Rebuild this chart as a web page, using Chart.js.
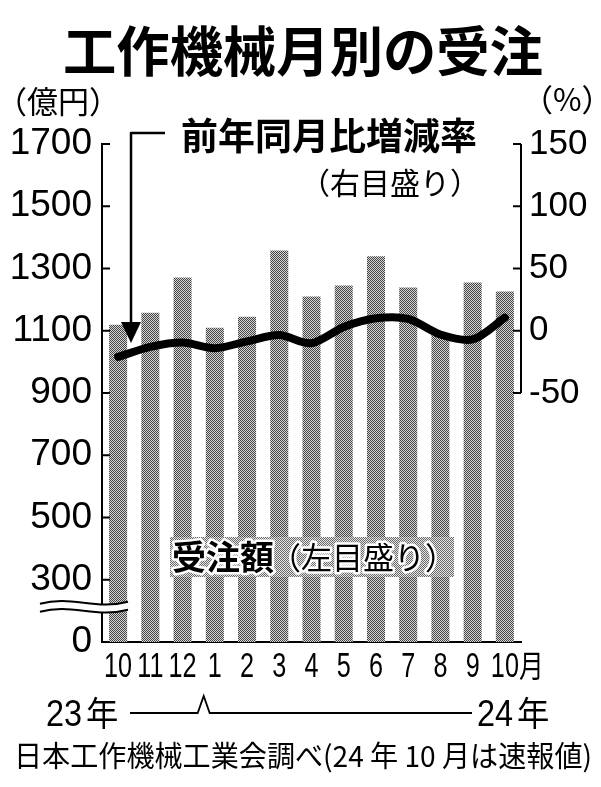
<!DOCTYPE html>
<html>
<head>
<meta charset="utf-8">
<script src="https://cdn.jsdelivr.net/npm/chart.js@4"></script>
<style>
  html, body { margin: 0; padding: 0; background: #fff; }
  #wrap { width: 601px; height: 787px; }
</style>
</head>
<body>
<div id="wrap"><canvas id="chartcanvas" width="601" height="787"></canvas></div>
<script>
// months (Oct 2023 .. Oct 2024)
var months = ["10","11","12","1","2","3","4","5","6","7","8","9","10"];
// machine tool orders, 100 million yen (left axis)
var orders = [1119, 1158, 1271, 1110, 1145, 1358, 1210, 1245, 1339, 1239, 1092, 1255, 1226];
// year-on-year change, % (right axis)
var yoy = [-21, -13, -9.5, -14, -8.5, -3.5, -10, 3, 10, 9.5, -3, -7, 10.5];
// left axis: bottom tick stands for 0 (broken axis)
var leftMin = 100, leftMax = 1700, leftStep = 200;
var rightMin = -250, rightMax = 150, rightStep = 50, rightShownFrom = -50;

var JP = '"Noto Sans CJK JP", "Noto Sans", sans-serif';
var NUM = '"Liberation Sans", Arial, sans-serif';

// halftone fill like the newspaper screen
function makeDots(dark, light) {
	var c = document.createElement("canvas");
	c.width = 2; c.height = 2;
	var g = c.getContext("2d");
	g.fillStyle = light; g.fillRect(0, 0, 2, 2);
	g.fillStyle = dark; g.fillRect(0, 0, 1, 1); g.fillRect(1, 1, 1, 1);
	return g.createPattern(c, "repeat");
}
var ctx = document.getElementById("chartcanvas").getContext("2d");
var dots = makeDots("#444444", "#d6d6d6");
var dotsLight = makeDots("#6a6a6a", "#e6e6e6");

// draw text squeezed horizontally
function narrow(c, txt, x, y, k, align) {
	c.save();
	c.translate(x, y); c.scale(k, 1);
	c.textAlign = align || "left";
	c.fillText(txt, 0, 0);
	c.restore();
}

var extras = {
	id: "extras",
	afterDraw: function (chart) {
		var c = chart.ctx, a = chart.chartArea;
		var sx = chart.scales.x, sy = chart.scales.y, sr = chart.scales.y1;
		c.save();
		c.strokeStyle = "#000"; c.fillStyle = "#000"; c.lineWidth = 2;

		// right axis line only down to -50
		var rBot = sr.getPixelForValue(rightShownFrom);
		c.beginPath(); c.moveTo(a.right, a.top); c.lineTo(a.right, rBot); c.stroke();
		// inward ticks
		for (var v = leftMin + leftStep; v <= leftMax; v += leftStep) {
			var py = sy.getPixelForValue(v);
			c.beginPath(); c.moveTo(a.left, py); c.lineTo(a.left + 8, py); c.stroke();
		}
		for (var r = rightShownFrom; r <= rightMax; r += rightStep) {
			var pr = sr.getPixelForValue(r);
			c.beginPath(); c.moveTo(a.right, pr); c.lineTo(a.right - 8, pr); c.stroke();
		}

		// axis break
		var by = sy.getPixelForValue(leftMin + 0.55 * leftStep) - 1;
		function wave(y0) {
			c.moveTo(40, y0 + 1);
			c.bezierCurveTo(72, y0 - 8, 95, y0 + 8, 128, y0 - 1);
		}
		c.beginPath();
		wave(by - 4);
		c.lineTo(128, by + 4);
		c.bezierCurveTo(95, by + 12, 72, by - 4, 40, by + 5);
		c.closePath();
		c.fillStyle = "#fff"; c.fill();
		c.beginPath(); wave(by - 4); c.stroke();
		c.beginPath(); wave(by + 4); c.stroke();

		// x labels
		c.fillStyle = "#000";
		c.textBaseline = "middle";
		for (var i = 0; i < months.length; i++) {
			var px = sx.getPixelForValue(i);
			c.font = "35px " + NUM;
			narrow(c, months[i], px, 667, 0.72, "center");
			if (i === months.length - 1) {
				var w = c.measureText(months[i]).width * 0.72;
				c.font = "31px " + JP;
				narrow(c, "月", px + w / 2, 665, 0.8, "left");
			}
		}

		// year line
		var kink = (sx.getPixelForValue(2) + sx.getPixelForValue(3)) / 2 + 5;
		c.lineWidth = 1.8;
		c.beginPath();
		c.moveTo(130, 713); c.lineTo(kink - 6, 713); c.lineTo(kink, 696);
		c.lineTo(kink + 6, 713); c.lineTo(472, 713); c.stroke();
		c.font = "36px " + NUM;
		narrow(c, "23", 46, 716, 0.9);
		narrow(c, "24", 477, 716, 0.9);
		c.font = "34px " + JP;
		narrow(c, "年", 86, 713, 0.95);
		narrow(c, "年", 517, 713, 0.95);

		// source
		c.font = "29px " + JP;
		c.textAlign = "left";
		c.fillText("日本工作機械工業会調べ(24 年 10 月は速報値)", 14, 756, 578);

		// title and unit labels
		c.font = "bold 54px " + JP; c.textAlign = "center";
		c.fillText("工作機械月別の受注", 303, 51, 480);
		c.font = "31px " + JP; c.textAlign = "left";
		c.fillText("（億円）", -4, 101);
		c.fillText("（%）", 522, 99);

		// series captions
		c.font = "bold 37px " + JP;
		c.fillText("前年同月比増減率", 181, 136, 296);
		c.font = "30px " + JP;
		c.fillText("（右目盛り）", 300, 183);

		c.fillStyle = dotsLight;
		c.fillRect(170, 537, 284, 40);
		c.lineJoin = "round";
		c.strokeStyle = "#fff"; c.lineWidth = 5;
		c.font = "bold 34px " + JP;
		c.strokeText("受注額", 172, 557);
		c.font = "31px " + JP;
		c.strokeText("（左目盛り）", 270, 557);
		c.fillStyle = "#000";
		c.font = "bold 34px " + JP;
		c.fillText("受注額", 172, 557);
		c.font = "31px " + JP;
		c.fillText("（左目盛り）", 270, 557);

		// arrow pointing to the line
		c.strokeStyle = "#000"; c.lineWidth = 2.5;
		c.beginPath();
		c.moveTo(165, 133); c.lineTo(131, 133); c.lineTo(131, 326); c.stroke();
		c.beginPath();
		c.moveTo(121, 322); c.lineTo(141, 322); c.lineTo(131, 343); c.closePath(); c.fill();
		c.restore();
	}
};

var myNewChartObj = new Chart(ctx, {
	type: "bar",
	data: {
		labels: months,
		datasets: [
			{
				type: "line",
				data: yoy,
				yAxisID: "y1",
				borderColor: "#000",
				borderWidth: 8,
				pointRadius: 0,
				tension: 0.3,
				borderCapStyle: "round",
				order: 0
			},
			{
				data: orders,
				yAxisID: "y",
				backgroundColor: dots,
				base: leftMin,
				barPercentage: 0.56,
				categoryPercentage: 1,
				order: 1
			}
		]
	},
	options: {
		responsive: false,
		animation: false,
		layout: { padding: { top: 144, bottom: 145, left: 0, right: 0 } },
		plugins: { legend: { display: false }, tooltip: { enabled: false } },
		scales: {
			x: {
				grid: { display: false },
				ticks: { display: false },
				border: { color: "#000", width: 2 },
				afterFit: function (s) { s.height = 0; }
			},
			y: {
				position: "left",
				min: leftMin, max: leftMax,
				grid: { display: false, drawTicks: false },
				border: { color: "#000", width: 2 },
				ticks: {
					stepSize: leftStep,
					padding: 10,
					color: "#000",
					font: { family: NUM, size: 37 },
					callback: function (v) { return v === leftMin ? "0" : v; }
				},
				afterFit: function (s) { s.width = 102; }
			},
			y1: {
				position: "right",
				min: rightMin, max: rightMax,
				grid: { display: false, drawTicks: false },
				border: { display: false },
				ticks: {
					stepSize: rightStep,
					padding: 8,
					color: "#000",
					font: { family: NUM, size: 35 },
					callback: function (v) { return v >= rightShownFrom ? v : ""; }
				},
				afterFit: function (s) { s.width = 80; }
			}
		}
	},
	plugins: [extras]
});
</script>
</body>
</html>
